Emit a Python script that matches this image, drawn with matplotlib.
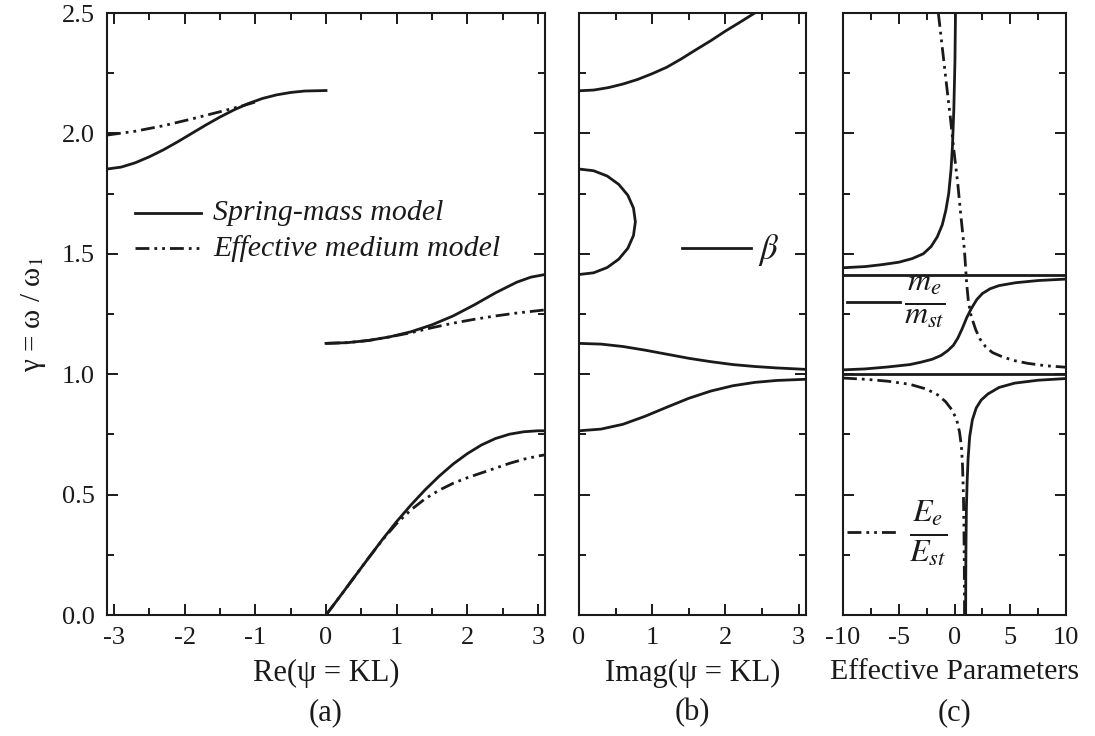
import matplotlib
matplotlib.use("Agg")
import matplotlib.pyplot as plt
from matplotlib.ticker import MultipleLocator

plt.rcParams['font.family'] = ['Liberation Serif', 'DejaVu Serif']
plt.rcParams['mathtext.fontset'] = 'stix'

# ---------------- data ----------------
# panel (a): real part of psi
a_up_sm_x = [-3.10, -2.90, -2.70, -2.50, -2.30, -2.10, -1.90, -1.70, -1.50, -1.30, -1.10, -0.90, -0.70, -0.50, -0.30, 0.0]
a_up_sm_y = [1.852, 1.860, 1.878, 1.903, 1.932, 1.965, 2.000, 2.035, 2.068, 2.098, 2.124, 2.145, 2.160, 2.170, 2.176, 2.178]
a_up_em_x = [-3.10, -2.70, -2.30, -1.90, -1.50, -1.20, -0.98]
a_up_em_y = [1.993, 2.009, 2.032, 2.060, 2.090, 2.113, 2.132]

a_op_sm_x = [0.0, 0.3, 0.6, 0.9, 1.2, 1.5, 1.8, 2.1, 2.4, 2.7, 2.9, 3.1]
a_op_sm_y = [1.128, 1.131, 1.140, 1.155, 1.176, 1.205, 1.242, 1.288, 1.338, 1.382, 1.403, 1.414]
a_op_em_x = [0.0, 0.3, 0.6, 0.9, 1.2, 1.5, 1.8, 2.1, 2.4, 2.7, 3.1]
a_op_em_y = [1.128, 1.131, 1.140, 1.155, 1.172, 1.193, 1.212, 1.228, 1.242, 1.254, 1.267]

a_ac_sm_x = [0.0, 0.2, 0.4, 0.6, 0.8, 1.0, 1.2, 1.4, 1.6, 1.8, 2.0, 2.2, 2.4, 2.6, 2.8, 3.0, 3.1]
a_ac_sm_y = [0.0, 0.078, 0.157, 0.236, 0.314, 0.388, 0.456, 0.519, 0.576, 0.627, 0.670, 0.706, 0.733, 0.751, 0.761, 0.765, 0.765]
a_ac_em_x = [0.0, 0.2, 0.4, 0.6, 0.8, 1.0, 1.2, 1.4, 1.6, 1.8, 2.0, 2.2, 2.4, 2.6, 2.8, 3.0, 3.1]
a_ac_em_y = [0.0, 0.078, 0.157, 0.236, 0.312, 0.380, 0.436, 0.482, 0.518, 0.547, 0.570, 0.590, 0.610, 0.630, 0.647, 0.660, 0.665]

# panel (b): imaginary part of psi (beta)
b_top_x = [0.0, 0.2, 0.4, 0.6, 0.8, 1.0, 1.2, 1.4, 1.6, 1.8, 2.0, 2.2, 2.4]
b_top_y = [2.177, 2.180, 2.190, 2.205, 2.224, 2.248, 2.275, 2.310, 2.348, 2.385, 2.425, 2.462, 2.500]
b_loop_x = [0.0, 0.199, 0.385, 0.544, 0.667, 0.744, 0.770, 0.744, 0.667, 0.544, 0.385, 0.199, 0.0]
b_loop_y = [1.852, 1.845, 1.823, 1.788, 1.743, 1.690, 1.633, 1.576, 1.523, 1.478, 1.443, 1.421, 1.414]
b_mid_x = [0.0, 0.3, 0.6, 0.9, 1.2, 1.5, 1.8, 2.1, 2.4, 2.7, 3.1]
b_mid_y = [1.128, 1.125, 1.115, 1.100, 1.083, 1.066, 1.052, 1.040, 1.032, 1.026, 1.020]
b_low_x = [0.0, 0.3, 0.6, 0.9, 1.2, 1.5, 1.8, 2.1, 2.4, 2.7, 3.1]
b_low_y = [0.765, 0.772, 0.792, 0.825, 0.863, 0.900, 0.930, 0.952, 0.966, 0.974, 0.979]

# panel (c): effective parameters
m_hi_x = [0.09, 0.04, -0.06, -0.18, -0.31, -0.52, -0.78, -1.10, -1.55, -2.10, -2.80, -3.80, -5.00, -6.50, -8.00, -10.0]
m_hi_y = [2.50, 2.30, 2.10, 1.95, 1.85, 1.75, 1.68, 1.62, 1.57, 1.53, 1.50, 1.48, 1.465, 1.455, 1.447, 1.442]
m_mid_x = [-10.0, -8.0, -6.0, -4.0, -3.0, -2.0, -1.2, -0.6, -0.1, 0.3, 0.7, 1.1, 1.5, 2.0, 2.5, 3.2, 4.0, 5.5, 7.5, 10.0]
m_mid_y = [1.018, 1.022, 1.030, 1.040, 1.050, 1.062, 1.078, 1.098, 1.120, 1.150, 1.190, 1.235, 1.272, 1.310, 1.335, 1.355, 1.368, 1.380, 1.389, 1.395]
m_lo_x = [1.0, 1.01, 1.03, 1.07, 1.13, 1.22, 1.36, 1.60, 1.95, 2.40, 3.00, 4.00, 5.40, 7.50, 10.0]
m_lo_y = [0.0, 0.15, 0.30, 0.45, 0.55, 0.65, 0.74, 0.81, 0.86, 0.893, 0.918, 0.945, 0.963, 0.975, 0.982]
asymptotes = [1.0, 1.414]

e_hi_x = [-1.45, -1.07, -0.73, -0.38, -0.06, 0.29, 0.58, 0.89, 1.09, 1.25, 1.50, 1.91, 2.30, 2.79, 3.40, 4.25, 5.30, 6.58, 8.20, 10.0]
e_hi_y = [2.50, 2.346, 2.208, 2.069, 1.931, 1.793, 1.654, 1.516, 1.377, 1.300, 1.240, 1.184, 1.145, 1.114, 1.090, 1.073, 1.057, 1.045, 1.035, 1.029]
e_lo_x = [-10.0, -8.0, -6.0, -4.0, -2.5, -1.5, -0.8, -0.2, 0.2, 0.45, 0.62, 0.72, 0.80, 0.85, 0.88, 0.90]
e_lo_y = [0.984, 0.979, 0.971, 0.958, 0.938, 0.914, 0.886, 0.850, 0.810, 0.760, 0.700, 0.620, 0.500, 0.350, 0.200, 0.0]

# ---------------- figure ----------------
W, H = 1095, 736
fig = plt.figure(figsize=(W / 100, H / 100), dpi=100)

def box(l, r, t=13, b=615):
    return [l / W, 1 - b / H, (r - l) / W, (b - t) / H]

axA = fig.add_axes(box(107, 545))
axB = fig.add_axes(box(579, 806))
axC = fig.add_axes(box(843, 1066))

LW = 2.0
DD = (0, (5, 1.8, 1.0, 1.8, 1.0, 1.8))
K = '#1a1a1a'
TFS = 19

for ax in (axA, axB, axC):
    ax.set_ylim(0, 2.5)
    ax.yaxis.set_major_locator(MultipleLocator(0.5))
    ax.yaxis.set_minor_locator(MultipleLocator(0.25))
    ax.tick_params(which='both', direction='in', top=True, right=True,
                   width=1.4, labelsize=TFS, pad=9, colors=K)
    ax.tick_params(which='major', length=8)
    ax.tick_params(which='minor', length=5)
    for s in ax.spines.values():
        s.set_linewidth(1.5)
        s.set_color(K)

axA.set_xlim(-3.1, 3.1)
axA.xaxis.set_minor_locator(MultipleLocator(0.5))
axA.set_xticks([-3, -2, -1, 0, 1, 2, 3])
axA.set_xticklabels(['-3', '-2', '-1', '0', '1', '2', '3'])
axA.set_yticks([0, 0.5, 1.0, 1.5, 2.0, 2.5])
axA.set_yticklabels(['0.0', '0.5', '1.0', '1.5', '2.0', '2.5'])

axB.set_xlim(0, 3.1)
axB.xaxis.set_minor_locator(MultipleLocator(0.5))
axB.set_xticks([0, 1, 2, 3])
axB.set_xticklabels(['0', '1', '2', '3'])
axB.tick_params(labelleft=False)

axC.set_xlim(-10, 10)
axC.xaxis.set_minor_locator(MultipleLocator(2.5))
axC.set_xticks([-10, -5, 0, 5, 10])
axC.set_xticklabels(['-10', '-5', '0', '5', '10'])
axC.tick_params(labelleft=False)

# panel a
axA.plot(a_up_sm_x, a_up_sm_y, color=K, lw=LW)
axA.plot(a_op_sm_x, a_op_sm_y, color=K, lw=LW)
axA.plot(a_ac_sm_x, a_ac_sm_y, color=K, lw=LW)
axA.plot(a_up_em_x, a_up_em_y, color=K, lw=LW, ls=DD)
axA.plot(a_op_em_x, a_op_em_y, color=K, lw=LW, ls=DD)
axA.plot(a_ac_em_x, a_ac_em_y, color=K, lw=LW, ls=DD)

# legend (a)
axA.plot([-2.70, -1.77], [1.671, 1.671], color=K, lw=LW)
axA.plot([-2.70, -1.77], [1.523, 1.523], color=K, lw=LW, ls=DD)
axA.text(-1.60, 1.671, 'Spring-mass model', fontsize=21.5, style='italic', va='center', ha='left', color=K)
axA.text(-1.60, 1.523, 'Effective medium model', fontsize=21.5, style='italic', va='center', ha='left', color=K)

# panel b
for xs, ys in ((b_top_x, b_top_y), (b_loop_x, b_loop_y), (b_mid_x, b_mid_y), (b_low_x, b_low_y)):
    axB.plot(xs, ys, color=K, lw=LW)
axB.plot([1.41, 2.35], [1.523, 1.523], color=K, lw=LW)
axB.text(2.45, 1.515, r'$\beta$', fontsize=25, va='center', ha='left', color=K)

# panel c
for lvl in asymptotes:
    axC.plot([-10, 10], [lvl, lvl], color=K, lw=LW)
for xs, ys in ((m_hi_x, m_hi_y), (m_mid_x, m_mid_y), (m_lo_x, m_lo_y)):
    axC.plot(xs, ys, color=K, lw=LW)
for xs, ys in ((e_hi_x, e_hi_y), (e_lo_x, e_lo_y)):
    axC.plot(xs, ys, color=K, lw=LW, ls=DD)

axC.plot([-9.6, -4.9], [1.301, 1.301], color=K, lw=LW)
axC.text(-4.5, 1.301, r'$\frac{m_e}{m_{st}}$', fontsize=33, va='center', ha='left', color=K)
axC.plot([-9.6, -4.9], [0.343, 0.343], color=K, lw=LW, ls=DD)
axC.text(-4.1, 0.343, r'$\frac{E_e}{E_{st}}$', fontsize=33, va='center', ha='left', color=K)

# labels
axA.set_xlabel('Re(ψ = KL)', fontsize=22, labelpad=7, color=K)
axB.set_xlabel('Imag(ψ = KL)', fontsize=22, labelpad=7, color=K)
axC.set_xlabel('Effective Parameters', fontsize=21.5, labelpad=7, color=K)
axA.set_ylabel(r'γ = ω / ω$_1$', fontsize=21, labelpad=10, color=K)

for ax, lab in ((axA, '(a)'), (axB, '(b)'), (axC, '(c)')):
    pos = ax.get_position()
    fig.text(pos.x0 + pos.width / 2, 1 - 713 / H, lab, fontsize=22, ha='center', va='center', color=K)

fig.savefig('out.png', dpi=100)
